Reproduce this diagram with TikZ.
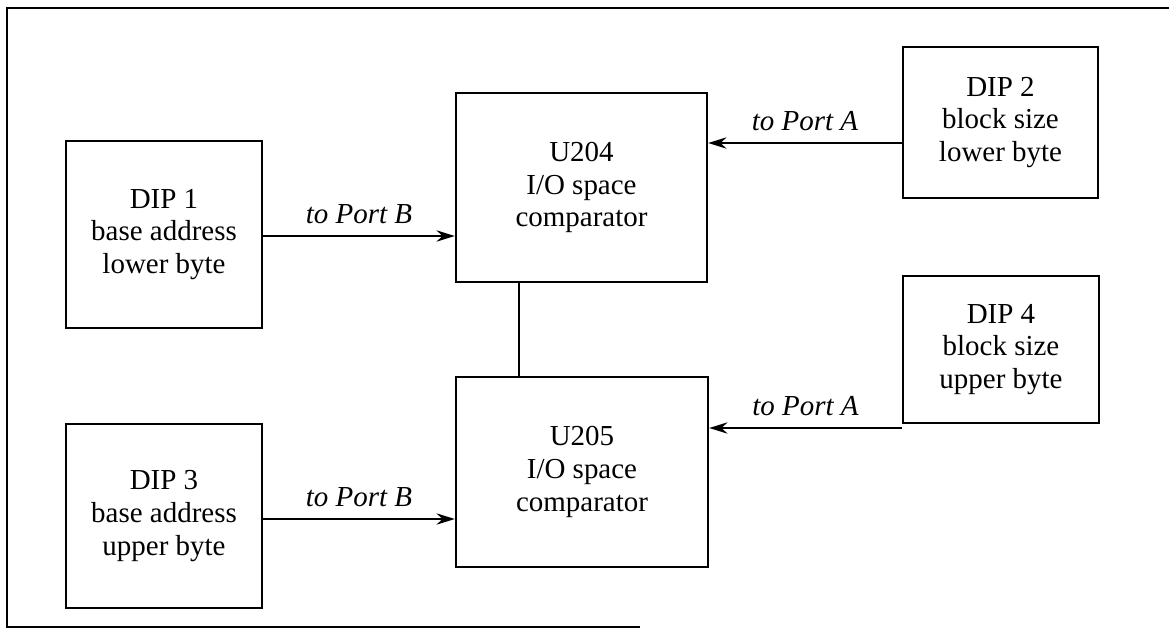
\documentclass[tikz,border=0pt]{standalone}
\usepackage{fontspec}
\setmainfont{Liberation Serif}
\usepackage{tikz}
\tikzset{every picture/.style={line width=0.8pt}}
\tikzset{blk/.style={draw, rectangle, align=center, inner sep=0pt, font=\fontsize{10.3}{11.7}\selectfont}}
\tikzset{lbl/.style={font=\fontsize{10.3}{11.7}\selectfont\itshape, inner sep=1pt}}
\usetikzlibrary{arrows.meta}

\begin{document}
\begin{tikzpicture}[x=0.0125cm, y=0.0125cm, >={Stealth[length=6.5pt,width=4pt]}]
\useasboundingbox (0,0) rectangle (1169,630);
% page frame
\draw[line width=0.6pt] (640,3) -- (7,3) -- (7,622) -- (1169,622);
% DIP switches
\foreach \n/\x/\y/\w/\h/\t in {
  d1/164/395.5/2.45/2.3375/{DIP 1\\base address\\lower byte},
  d2/1000.5/507.5/2.4375/1.8875/{DIP 2\\block size\\lower byte},
  d3/164/114/2.45/2.3/{DIP 3\\base address\\upper byte},
  d4/1001/280.5/2.45/1.8375/{DIP 4\\block size\\upper byte}} {
\node[blk, minimum width=\w cm, minimum height=\h cm] (\n) at (\x,\y) {\t};
}
% comparators
\node[blk, minimum width=3.1375cm, minimum height=2.3625cm] (u204) at (581.5,442.5) {U204\\I/O space\\comparator};
\node[blk, minimum width=3.15cm, minimum height=2.375cm] (u205) at (582,158) {U205\\I/O space\\comparator};
\draw[->] (d1.east |- 0,394) -- node[lbl, above=3pt] (pb1) {to Port B} (u204.west |- 0,394);
\draw[->] (d3.east |- 0,111) -- node[lbl, above=3pt] (pb2) {to Port B} (u205.west |- 0,111);
\draw[->] (d2.west |- 0,487) -- node[lbl, above=3pt] (pa1) {to Port A} (u204.east |- 0,487);
\draw[->] (d4.west |- 0,202) -- node[lbl, above=3pt] (pa2) {to Port A} (u205.east |- 0,202);
\draw (u204.south -| 519,0) -- (u205.north -| 519,0);
\end{tikzpicture}
\end{document}
